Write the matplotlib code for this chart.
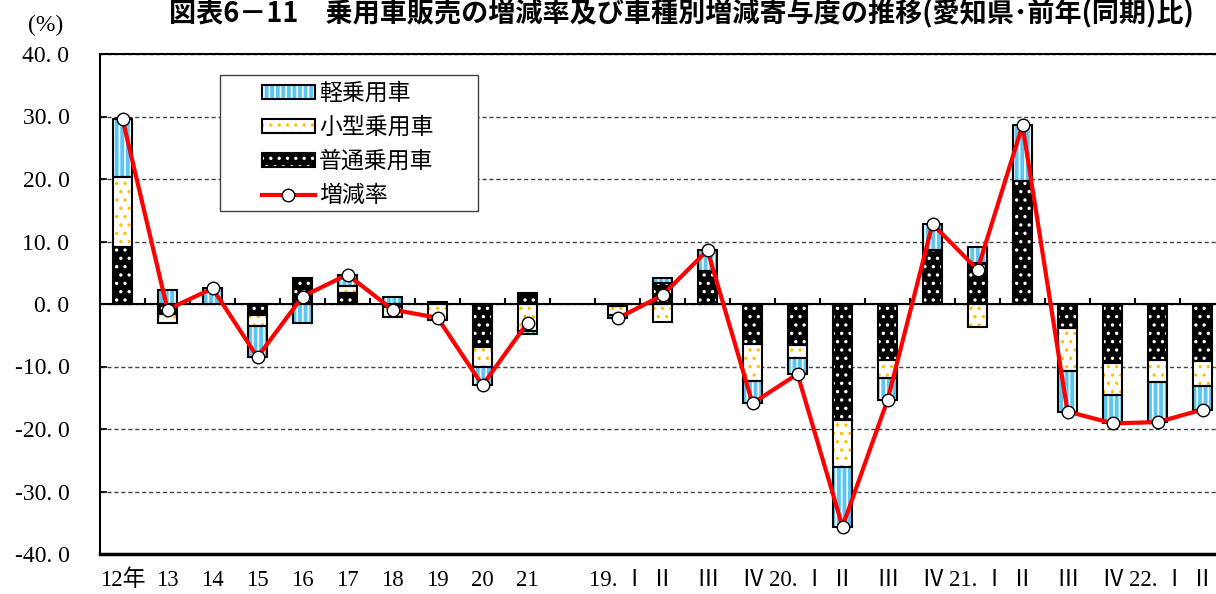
"""Passenger car sales growth rate and contribution by vehicle type (Aichi)."""

import matplotlib.pyplot as plt
import matplotlib.patches as mpatches
import numpy as np
from matplotlib.lines import Line2D
from matplotlib.transforms import blended_transform_factory

plt.rcParams["font.family"] = ["Liberation Serif", "Noto Sans CJK JP"]
plt.rcParams["hatch.linewidth"] = 1.2

# Calendar years, then quarters (empty slot separates the two groups)
labels = ["12年", "13", "14", "15", "16", "17", "18", "19", "20", "21", "",
          "19. Ⅰ", "Ⅱ", "Ⅲ", "Ⅳ", "20. Ⅰ", "Ⅱ", "Ⅲ", "Ⅳ",
          "21. Ⅰ", "Ⅱ", "Ⅲ", "Ⅳ", "22. Ⅰ", "Ⅱ"]
nan = np.nan
# contribution (percentage points) by vehicle type
futsu = [9.2, -1.6, 0.0, -1.8, 4.2, 1.8, -0.4, 0.4, -6.8, 1.8, nan,
         -0.3, 3.4, 5.3, -6.4, -6.6, -18.6, -9.0, 8.6,
         6.5, 19.7, -3.9, -9.5, -8.9, -9.1]
kogata = [11.2, -1.5, 0.0, -1.7, 0.0, 1.1, -1.6, -2.6, -3.2, -4.3, nan,
          -1.4, -2.8, 0.0, -5.9, -2.0, -7.5, -2.8, 0.0,
          -3.6, 0.0, -6.8, -5.0, -3.6, -4.0]
kei = [9.2, 2.2, 2.5, -5.0, -3.0, 1.8, 1.1, 0.0, -3.0, -0.5, nan,
       -0.6, 0.8, 3.3, -3.6, -2.6, -9.5, -3.6, 4.2,
       2.6, 8.9, -6.5, -4.6, -6.4, -3.8]
# year-on-year growth rate (%)
rate = [29.6, -0.9, 2.5, -8.5, 1.2, 4.7, -0.9, -2.2, -13.0, -3.0, nan,
        -2.3, 1.4, 8.6, -15.9, -11.2, -35.6, -15.4, 12.8,
        5.5, 28.6, -17.2, -19.1, -18.9, -16.9]

series = [
    ("普通乗用車", futsu, "black", "..", "white"),
    ("小型乗用車", kogata, "white", "..", "#ffc000"),
    ("軽乗用車", kei, "#5cc6f2", "|||", "white"),
]

W, H = 1216, 594
fig = plt.figure(figsize=(W / 100, H / 100), dpi=100)
# plot area runs past the right edge of the figure
ax = fig.add_axes([100 / W, 40 / H, 1125 / W, 500 / H])

x = np.arange(len(labels))
width = 0.43
pos_base = np.zeros(len(x))
neg_base = np.zeros(len(x))
handles = {}
for name, vals, face, hatch, hcol in series:
    v = np.array(vals, dtype=float)
    ok = ~np.isnan(v) & (v != 0)
    bottom = np.where(v > 0, pos_base, neg_base)
    ax.bar(x[ok], v[ok], width, bottom=bottom[ok], color=face,
           edgecolor=hcol, hatch=hatch, linewidth=0, zorder=3)
    ax.bar(x[ok], v[ok], width, bottom=bottom[ok], fill=False,
           edgecolor="black", linewidth=1.5, zorder=4)
    pos_base = np.where(v > 0, pos_base + v, pos_base)
    neg_base = np.where(v < 0, neg_base + v, neg_base)
    handles[name] = (
        mpatches.Patch(facecolor=face, edgecolor=hcol, hatch=hatch, linewidth=0),
        mpatches.Patch(facecolor="none", edgecolor="black", linewidth=1.5),
    )

ax.plot(x, rate, color="#ff0000", linewidth=3, marker="o", markersize=9,
        markerfacecolor="white", markeredgecolor="black", markeredgewidth=1,
        zorder=6)

# zero line with category separators
ax.axhline(0, color="black", linewidth=1.5, zorder=5)
ax.vlines(np.arange(0.5, len(x) - 1, 1), 0, 1.0, color="black",
          linewidth=1.5, zorder=5)

ax.set_xlim(-0.5, len(x) - 0.5)
ax.set_ylim(-40, 40)
ax.set_yticks(np.arange(-40, 41, 10))
ax.set_yticklabels([f"{t:.1f}".replace(".", ". ") for t in np.arange(-40, 41, 10)],
                   fontsize=17)
ax.tick_params(axis="y", direction="in", length=5, width=1.2, pad=22)
ax.set_xticks([])
ax.grid(axis="y", color="#444444", linestyle=(0, (3, 2)), linewidth=1)
ax.set_axisbelow(True)
for side in ("left", "top"):
    ax.spines[side].set_linewidth(1.5)
ax.spines["bottom"].set_linewidth(2.5)

trans = blended_transform_factory(ax.transData, ax.transAxes)
for xi, lab in zip(x, labels):
    ax.text(xi, -0.052, lab, transform=trans, ha="center", va="center",
            fontsize=16.5)

# legend: separate frame so the padding can be uneven
ax.add_patch(mpatches.Rectangle((0.1067, 0.686), 0.2293, 0.272,
                                transform=ax.transAxes, facecolor="white",
                                edgecolor="#404040", linewidth=1, zorder=7))
leg_handles = [handles["軽乗用車"], handles["小型乗用車"], handles["普通乗用車"],
               Line2D([], [], color="#ff0000", linewidth=3, marker="o",
                      markersize=9, markerfacecolor="white",
                      markeredgecolor="black", markeredgewidth=1)]
leg = ax.legend(leg_handles, ["軽乗用車", "小型乗用車", "普通乗用車", "増減率"],
                loc="upper left", bbox_to_anchor=(0.144, 0.944),
                borderaxespad=0, borderpad=0, frameon=False,
                handlelength=2.3, handleheight=0.52, handletextpad=0.2,
                labelspacing=0.48,
                prop={"family": "Noto Sans CJK JP", "size": 16.5})
leg.set_zorder(8)

fig.text(46 / W, 1 - 25 / H, "(%)", ha="center", va="center", fontsize=17)
fig.text(0.56, 1 - 14 / H,
         "図表6－11　乗用車販売の増減率及び車種別増減寄与度の推移(愛知県･前年(同期)比)",
         ha="center", va="center", fontsize=19.5, fontweight="bold",
         family="Noto Sans CJK JP")

fig.savefig("out.png", dpi=100)
